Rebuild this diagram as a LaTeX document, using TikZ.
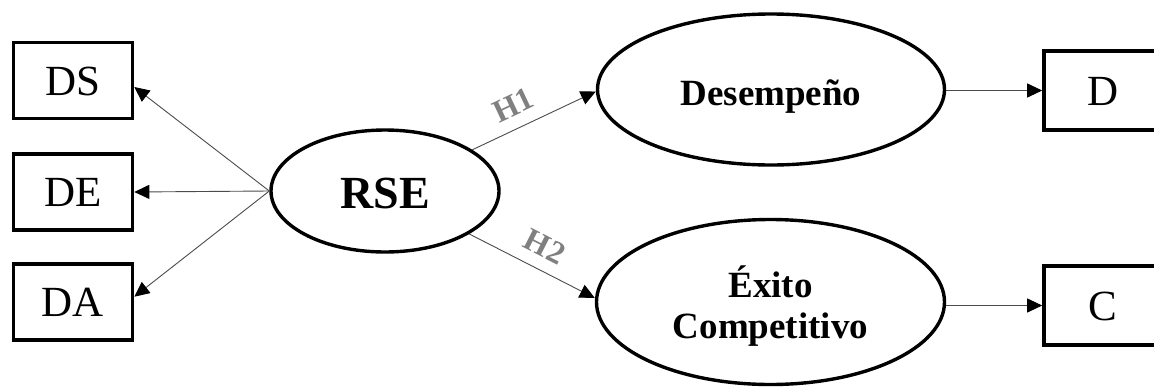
\documentclass[tikz,border=0pt]{standalone}
\usepackage{fontspec}
\setmainfont{Liberation Serif}
\usetikzlibrary{arrows.meta,shapes.geometric,calc}
\newcommand\lowtext[2]{\raisebox{-#1}[0pt][0pt]{#2}}
\tikzset{
  indbox/.style={draw=black, line width=3.6pt, rectangle, minimum width=119pt, minimum height=76pt,
    inner sep=0pt, font=\fontsize{43}{48}\selectfont},
  latent/.style={draw=black, line width=3.4pt, ellipse, inner sep=0pt},
  conn/.style={draw=black!70, line width=0.9pt, -{Triangle[length=15pt,width=14pt,color=black]}},
  hyp/.style={sloped, above=12pt, inner sep=0pt, text=black!50, font=\fontsize{32}{34}\selectfont\bfseries}
}
\begin{document}
\begin{tikzpicture}[x=1pt,y=1pt]
\useasboundingbox[fill=white] (0,0) rectangle (1154,-389);
% indicator boxes
\node[indbox] (DS) at (73,-80.5) {\lowtext{14.5pt}{DS}};
\node[indbox] (DE) at (73,-192) {\lowtext{14.5pt}{DE}};
\node[indbox] (DA) at (73,-302) {\lowtext{14.5pt}{DA}};
\node[indbox, minimum width=118pt, minimum height=79pt] (D) at (1103,-90.5) {\lowtext{14.5pt}{D}};
\node[indbox, minimum width=118pt, minimum height=79pt] (C) at (1103,-305.5) {\lowtext{14.5pt}{C}};
% latent constructs
\node[latent, minimum width=228pt, minimum height=122pt, font=\fontsize{46}{50}\selectfont\bfseries] (RSE) at (385,-191) {\lowtext{17pt}{RSE}};
\node[latent, minimum width=347pt, minimum height=151pt, font=\fontsize{37}{41}\selectfont\bfseries] (Des) at (771,-89.5) {\lowtext{15.5pt}{Desempeño}};
\node[latent, minimum width=348pt, minimum height=165pt, font=\fontsize{37}{41}\selectfont\bfseries] (EC) at (770.5,-302) {\lowtext{36.3pt}{\begin{tabular}[b]{@{}c@{}}Éxito\\Competitivo\end{tabular}}};
% connectors
\draw[conn] (RSE.west) -- ([yshift=-6.5pt]DS.east);
\draw[conn] (RSE.west) -- (DE.east);
\draw[conn] (RSE.west) -- ([yshift=5.3pt]DA.east);
\draw[conn] (RSE) -- ([yshift=-2pt]Des.west) node[hyp, pos=0.41] (H1) {H1};
\draw[conn] (RSE) -- ([yshift=4pt]EC.west) node[hyp, pos=0.52] (H2) {H2};
\draw[conn] (D.west -| Des.east) -- (D.west);
\draw[conn] (C.west -| EC.east) -- (C.west);
\end{tikzpicture}
\end{document}
